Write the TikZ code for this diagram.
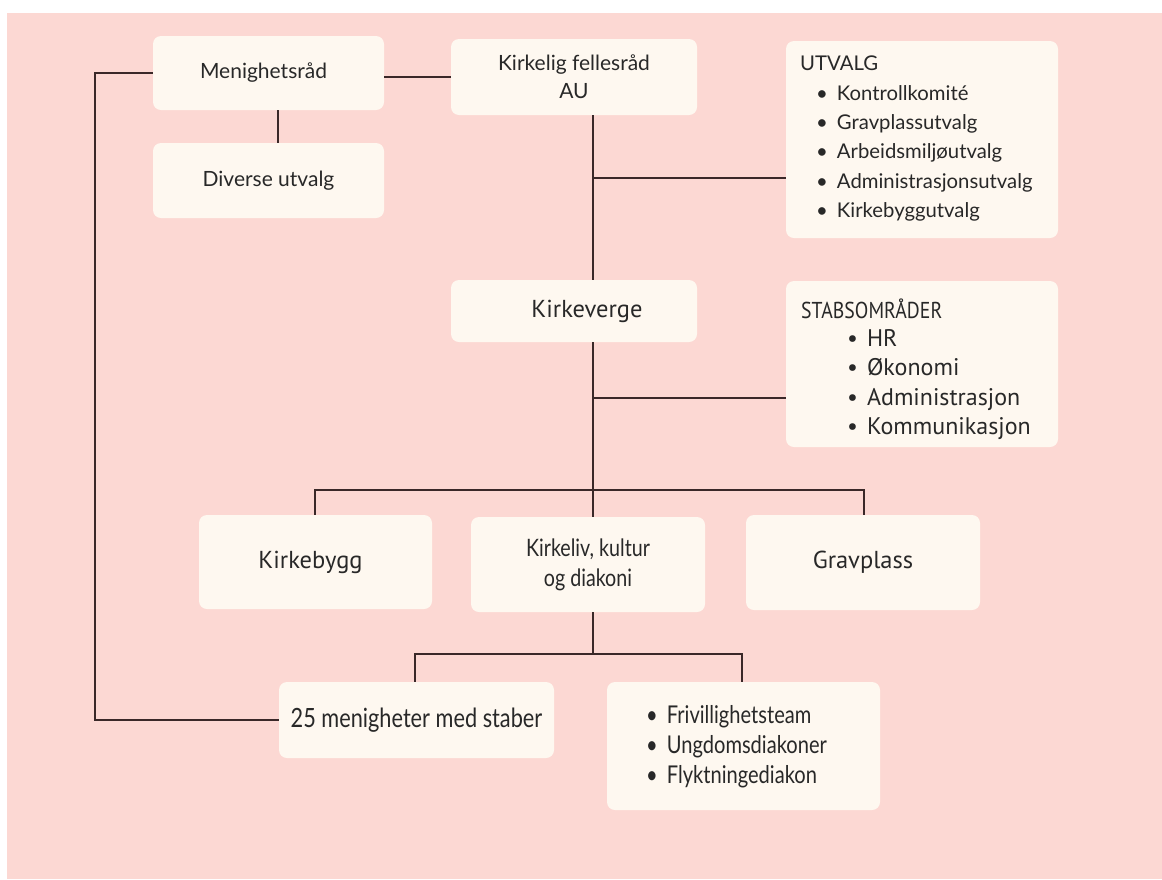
\documentclass[tikz,border=0pt]{standalone}
\usepackage{fontspec}
\setmainfont{Lato}
\newfontfamily\condf[FakeStretch=0.82]{Lato}
\newfontfamily\dinf{PT Sans}
\newfontfamily\dincf[FakeStretch=0.86]{PT Sans}
\definecolor{bgpink}{RGB}{252,216,211}
\definecolor{boxfill}{RGB}{254,248,240}
\definecolor{linec}{RGB}{58,40,40}
\definecolor{txt}{RGB}{40,40,40}
\begin{document}
\begin{tikzpicture}[x=1pt,y=-1pt,
  box/.style={fill=boxfill,draw=none,rounded corners=8pt,inner sep=0pt,text=txt,align=center,font=\fontsize{21}{28}\selectfont},
  din/.style={font=\dinf\fontsize{24.5}{28}\selectfont},
  cond/.style={font=\condf\fontsize{24}{30}\selectfont},
  conn/.style={draw=linec,line width=2.4pt},
  listtxt/.style={anchor=north west,inner sep=0pt,align=left,text=txt}]
\useasboundingbox (0,0) rectangle (1162,879);
\fill[white] (0,0) rectangle (1162,879);
\fill[bgpink] (7,13) rectangle (1162,879);
% boxes
\node[box,minimum width=231pt,minimum height=74pt] (men) at (268.5,73) {\hspace*{-10pt}Menighetsråd};
\node[box,minimum width=231pt,minimum height=75pt] (div) at (268.5,180.5) {Diverse utvalg};
\node[box,minimum width=246pt,minimum height=76pt] (kfr) at (574,77) {Kirkelig fellesråd\\AU};
\node[box,minimum width=272pt,minimum height=197pt] (utv) at (922,139.5) {};
\node[box,din,minimum width=246pt,minimum height=62pt] (kv) at (574,311) {\hspace*{26pt}Kirkeverge};
\node[box,minimum width=272pt,minimum height=166pt] (stab) at (922,364) {};
\node[box,din,minimum width=233pt,minimum height=94pt] (kb) at (315.5,562) {\hspace*{-10pt}Kirkebygg};
\node[box,cond,minimum width=234pt,minimum height=95pt] (kl) at (588,564.5) {Kirkeliv, kultur\\og diakoni};
\node[box,din,minimum width=234pt,minimum height=95pt] (gp) at (863,562.5) {Gravplass};
\node[box,cond,font=\condf\fontsize{26.5}{30}\selectfont,minimum width=275pt,minimum height=76pt] (men25) at (416.5,720) {25 menigheter med staber};
\node[box,minimum width=273pt,minimum height=128pt] (fri) at (743.5,746) {};
% list texts
\node[listtxt,font=\fontsize{20.3}{29.3}\selectfont] (utvt) at (800,56)
  {UTVALG\\
   \hspace*{16pt}\textbullet\hspace{9pt}Kontrollkomité\\
   \hspace*{16pt}\textbullet\hspace{9pt}Gravplassutvalg\\
   \hspace*{16pt}\textbullet\hspace{9pt}Arbeidsmiljøutvalg\\
   \hspace*{16pt}\textbullet\hspace{9pt}Administrasjonsutvalg\\
   \hspace*{16pt}\textbullet\hspace{9pt}Kirkebyggutvalg};
\node[listtxt,font=\dincf\fontsize{23}{29.5}\selectfont] (stabt) at (801,299) {STABSOMRÅDER};
\node[listtxt,font=\dinf\fontsize{24}{29.5}\selectfont] (stabl) at (847,329)
  {\textbullet\hspace{9pt}HR\\
   \textbullet\hspace{9pt}Økonomi\\
   \textbullet\hspace{9pt}Administrasjon\\
   \textbullet\hspace{9pt}Kommunikasjon};
\node[listtxt,font=\condf\fontsize{24.5}{30}\selectfont] (frit) at (646,705)
  {\textbullet\hspace{9pt}Frivillighetsteam\\
   \textbullet\hspace{9pt}Ungdomsdiakoner\\
   \textbullet\hspace{9pt}Flyktningediakon};
% helper coordinates
\coordinate (spine) at (593,0);
\coordinate (leftx) at (95,0);
\coordinate (j1) at (593,178);
\coordinate (j2) at (593,398);
\coordinate (bar2) at (593,654);
\coordinate (menx) at (278,0);
% connectors
\draw[conn] (men.west |- 0,73) -- (leftx |- men.west) -- (leftx |- men25.west) -- (men25.west);
\draw[conn] (men.east |- 0,77) -- (kfr.west);
\draw[conn] (men.south -| menx) -- (div.north -| menx);
\draw[conn] (kfr.south -| spine) -- (kv.north -| spine);
\draw[conn] (j1) -- (utv.west |- j1);
\draw[conn] (kv.south -| spine) -- (kl.north -| spine);
\draw[conn] (j2) -- (stab.west |- j2);
\draw[conn] (kb.north -| 315,0) -- (315,490) -- (864,490) -- (gp.north -| 864,0);
\draw[conn] (kl.south -| spine) -- (bar2);
\draw[conn] (men25.north -| 415,0) -- (415,654) -- (742,654) -- (fri.north -| 742,0);
\end{tikzpicture}
\end{document}
